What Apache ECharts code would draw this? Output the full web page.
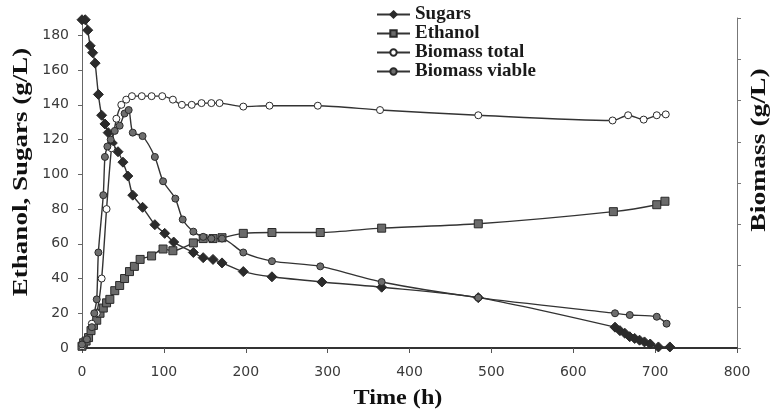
<!DOCTYPE html>
<html>
<head>
<meta charset="utf-8">
<script src="https://cdn.jsdelivr.net/npm/echarts@6/dist/echarts.min.js"></script>
<style>
html, body { margin: 0; padding: 0; background: #fff; }
#chart { width: 777px; height: 415px; }
</style>
</head>
<body>
<div id="chart"></div>
<script>
// tick labels
var timeTicks = [0, 100, 200, 300, 400, 500, 600, 700, 800];
var leftTicks = [0, 20, 40, 60, 80, 100, 120, 140, 160, 180];
var rightTicks = [0, 1, 2, 3, 4, 5, 6, 7, 8];

// [time (h), g/L]
var sugars = [[0,189],[4,189],[7,183],[10,174],[13,170],[16,164],[20,146],[24,134],[28,129],[32,124],
  [37,118],[44,113],[50,107],[56,99],[62,88],[74,81],[89,71],[101,66],[112,61],[136,55],[148,52],
  [160,51],[171,49],[197,44],[232,41],[293,38],[366,35],[484,29],[651,12],[657,10],[663,8.5],
  [669,6.5],[675,5.5],[681,4.5],[687,3.5],[694,2.3],[704,0.6],[718,0.6]];
var ethanol = [[0,1],[2,3],[5,4],[8,6],[11,10],[14,13],[18,16],[22,20],[26,23],[30,26],[34,28],
  [40,33],[46,36],[52,40],[58,44],[64,47],[71,51],[85,53],[99,57],[111,56],[136,60.5],[148,63],
  [160,63],[171,63.5],[197,66],[232,66.5],[291,66.5],[366,69],[484,71.5],[649,78.5],[702,82.5],[712,84.5]];
var biomassTotal = [[0,1],[6,5],[12,14],[18,20],[24,40],[30,80],[36,115],[42,132],[48,140],[54,143],
  [61,145],[73,145],[85,145],[98,145],[111,143],[122,140],[134,140],[146,141],[158,141],[168,141],
  [197,139],[229,139.5],[288,139.5],[364,137],[484,134],[648,131],[667,134],[686,131.5],[702,134],[713,134.5]];
var biomassViable = [[0,2],[6,5],[12,12],[15,20],[18,28],[20,55],[26,88],[28,110],[31,116],[35,120],
  [40,125],[46,128],[52,135],[57,137],[62,124],[74,122],[89,110],[99,96],[114,86],[123,74],[136,67],
  [148,64],[158,63],[171,63],[197,55],[232,50],[291,47],[366,38],[484,29],[651,20],[669,19],[702,18],[714,14]];

var myChart = echarts.init(document.getElementById('chart'));

var tickFont = { fontFamily: 'DejaVu Sans', fontSize: 14, color: '#3a3a3a' };
var lineColor = '#333';

function lineSeries(name, data, symbol, size, fill) {
  return {
    name: name,
    type: 'line',
    data: data,
    smooth: 0.25,
    symbol: symbol,
    symbolSize: size,
    lineStyle: { color: lineColor, width: 1.4 },
    itemStyle: { color: fill, borderColor: '#2a2a2a', borderWidth: 1 },
    emphasis: { disabled: true }
  };
}

var option = {
  backgroundColor: '#fff',
  animation: false,
  grid: { left: 82, right: 40, top: 18, bottom: 67 },
  legend: {
    orient: 'vertical',
    left: 376,
    top: 5,
    padding: 0,
    itemGap: 0,
    itemWidth: 33,
    itemHeight: 8,
    textStyle: { fontFamily: 'Liberation Serif', fontWeight: 'bold', fontSize: 19, color: '#1a1a1a', lineHeight: 18.5 },
    data: ['Sugars', 'Ethanol', 'Biomass total', 'Biomass viable']
  },
  xAxis: {
    type: 'value',
    min: 0,
    max: 800,
    interval: 100,
    axisLine: { lineStyle: { color: '#333', width: 2 } },
    axisTick: { length: 5, lineStyle: { color: '#555' }, customValues: timeTicks },
    axisLabel: Object.assign({ margin: 17, customValues: timeTicks }, tickFont),
    splitLine: { show: false }
  },
  yAxis: [
    {
      type: 'value',
      min: 0,
      max: 190,
      axisLine: { show: true, lineStyle: { color: '#666', width: 1 } },
      axisTick: { show: true, length: 4, lineStyle: { color: '#666' }, customValues: leftTicks },
      axisLabel: Object.assign({ margin: 13, customValues: leftTicks }, tickFont),
      splitLine: { show: false }
    },
    {
      type: 'value',
      min: 0,
      max: 8,
      interval: 1,
      position: 'right',
      axisLine: { show: true, lineStyle: { color: '#777', width: 1 } },
      axisTick: { show: true, length: 4, lineStyle: { color: '#777' }, customValues: rightTicks },
      axisLabel: { show: false },
      splitLine: { show: false }
    }
  ],
  // axis titles, stretched a bit like the original figure
  graphic: [
    {
      type: 'text', x: 22, y: 172, rotation: Math.PI / 2, scaleX: 1.35,
      style: { text: 'Ethanol, Sugars (g/L)', font: 'bold 20px "Liberation Serif"', fill: '#111', align: 'center', verticalAlign: 'middle' }
    },
    {
      type: 'text', x: 760, y: 150, rotation: Math.PI / 2, scaleX: 1.38,
      style: { text: 'Biomass (g/L)', font: 'bold 20px "Liberation Serif"', fill: '#111', align: 'center', verticalAlign: 'middle' }
    },
    {
      type: 'text', x: 398, y: 399, scaleX: 1.15,
      style: { text: 'Time (h)', font: 'bold 21px "Liberation Serif"', fill: '#111', align: 'center', verticalAlign: 'middle' }
    }
  ],
  series: [
    lineSeries('Sugars', sugars, 'diamond', 10, '#2b2b2b'),
    lineSeries('Ethanol', ethanol, 'rect', 8, '#6a6a6a'),
    lineSeries('Biomass total', biomassTotal, 'circle', 7, '#ffffff'),
    lineSeries('Biomass viable', biomassViable, 'circle', 7, '#6e6e6e')
  ]
};

myChart.setOption(option);
</script>
</body>
</html>
